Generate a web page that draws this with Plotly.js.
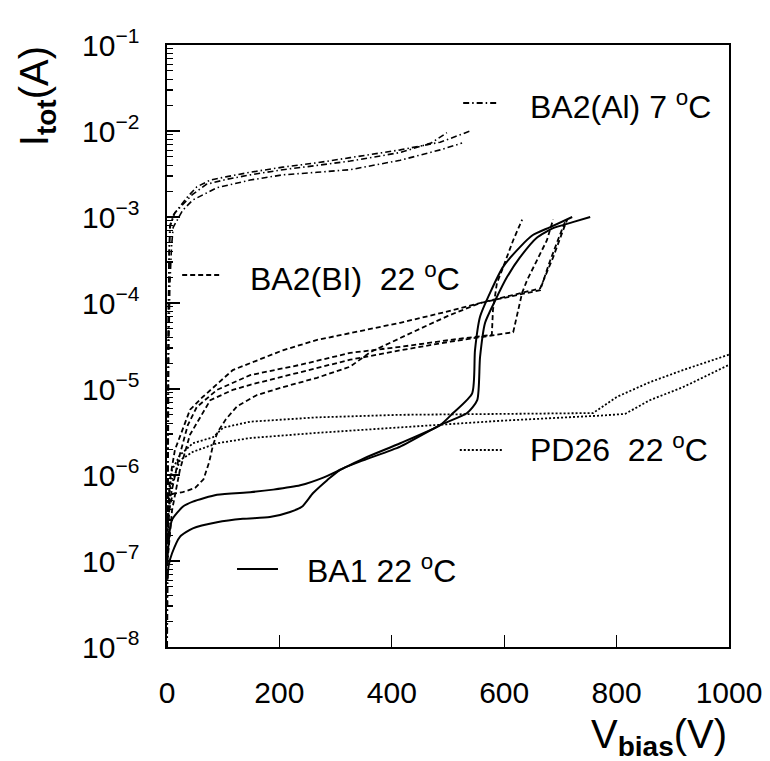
<!DOCTYPE html>
<html>
<head>
<meta charset="utf-8">
<script src="https://cdn.plot.ly/plotly-3.0.1.min.js"></script>
<style>html,body{margin:0;padding:0;background:#fff;}#chart{width:770px;height:761px;}</style>
</head>
<body>
<div id="chart"></div>
<script>
// ---- data (V in volts, I in amperes) ----
// BA1 22 C (solid)
const ba1aV = [1, 3, 5, 9, 28, 46, 89, 148, 189, 237, 278, 308, 356, 415, 486, 509, 543, 548, 557, 575, 598, 628, 651, 681, 721];
const ba1aI = [1.12e-7, 1.66e-7, 2.29e-7, 3.02e-7, 4.27e-7, 4.90e-7, 5.89e-7, 6.31e-7, 6.76e-7, 7.59e-7, 9.33e-7, 1.15e-6, 1.62e-6, 2.34e-6, 3.80e-6, 5.25e-6, 8.91e-6, 2.82e-5, 6.92e-5, 1.32e-4, 2.63e-4, 4.47e-4, 6.17e-4, 7.59e-4, 1.0e-3];
const ba1bV = [1, 3, 9, 23, 46, 89, 135, 183, 219, 240, 260, 285, 308, 349, 415, 486, 534, 552, 557, 566, 584, 605, 628, 658, 687, 722, 753];
const ba1bI = [6.31e-8, 8.91e-8, 1.23e-7, 1.91e-7, 2.40e-7, 2.82e-7, 3.09e-7, 3.24e-7, 3.72e-7, 4.27e-7, 6.17e-7, 8.71e-7, 1.15e-6, 1.48e-6, 2.14e-6, 3.80e-6, 5.25e-6, 7.41e-6, 2.34e-5, 5.89e-5, 1.07e-4, 2.00e-4, 3.39e-4, 5.75e-4, 7.41e-4, 8.71e-4, 1.0e-3];

// BA2(BI) 22 C (dashed)
const bi1V = [1, 5, 14, 27, 41, 64, 117, 206, 267, 326, 415, 498, 557, 664, 687, 705, 712];
const bi1I = [2.51e-7, 8.71e-7, 1.95e-6, 3.31e-6, 5.75e-6, 8.13e-6, 1.66e-5, 2.82e-5, 3.72e-5, 4.47e-5, 5.89e-5, 7.94e-5, 1.0e-4, 1.48e-4, 3.39e-4, 7.08e-4, 9.33e-4];
const bi2V = [1, 5, 20, 37, 53, 89, 148, 237, 326, 415, 504, 578, 580, 587, 596, 605, 616, 632];
const bi2I = [1.58e-7, 5.13e-7, 1.48e-6, 3.80e-6, 6.17e-6, 9.77e-6, 1.45e-5, 1.91e-5, 2.63e-5, 3.09e-5, 3.72e-5, 4.27e-5, 8.32e-5, 1.70e-4, 2.40e-4, 3.39e-4, 5.37e-4, 9.33e-4];
const bi3V = [1, 9, 23, 41, 77, 117, 148, 237, 326, 415, 504, 616, 623, 632, 641, 658, 676, 687];
const bi3I = [1.0e-7, 3.89e-7, 1.15e-6, 2.95e-6, 7.41e-6, 9.77e-6, 1.12e-5, 1.55e-5, 2.19e-5, 2.82e-5, 3.55e-5, 4.57e-5, 7.59e-5, 1.32e-4, 1.86e-4, 3.16e-4, 5.37e-4, 9.33e-4];
const bi4V = [1, 10, 28, 50, 65, 75, 82, 90, 105, 125, 160, 206, 267, 326, 362, 400, 450, 500, 557, 664, 681, 699, 708];
const bi4I = [3.16e-7, 6.03e-7, 6.31e-7, 7.08e-7, 8.91e-7, 1.41e-6, 2.24e-6, 3.16e-6, 4.47e-6, 6.31e-6, 8.51e-6, 1.05e-5, 1.35e-5, 1.82e-5, 2.69e-5, 3.55e-5, 5.01e-5, 7.08e-5, 1.0e-4, 1.41e-4, 3.02e-4, 6.17e-4, 8.71e-4];

// PD26 22 C (dotted)
const pd1V = [1, 2, 9, 23, 46, 82, 100, 148, 267, 415, 593, 758, 801, 859, 918, 1000];
const pd1I = [2.0e-7, 5.13e-7, 1.15e-6, 1.70e-6, 2.34e-6, 2.75e-6, 3.55e-6, 4.17e-6, 4.68e-6, 5.01e-6, 5.13e-6, 5.25e-6, 8.13e-6, 1.20e-5, 1.66e-5, 2.51e-5];
const pd2V = [1, 5, 23, 46, 89, 148, 267, 415, 593, 770, 815, 859, 918, 1000];
const pd2I = [1.26e-7, 6.76e-7, 1.48e-6, 1.86e-6, 2.34e-6, 2.69e-6, 3.09e-6, 3.55e-6, 4.27e-6, 4.90e-6, 5.13e-6, 7.41e-6, 1.05e-5, 1.91e-5];

// BA2(Al) 7 C (dash-dot)
const al1V = [0.2, 1, 2, 3.5, 5, 12, 23, 36, 53, 77, 107, 148, 206, 267, 326, 415, 486, 543];
const al1I = [1.0e-8, 1.0e-6, 3.16e-5, 3.16e-4, 7.94e-4, 1.07e-3, 1.32e-3, 1.70e-3, 2.24e-3, 2.69e-3, 2.95e-3, 3.31e-3, 3.80e-3, 4.27e-3, 4.90e-3, 6.03e-3, 7.41e-3, 1.02e-2];
const al2V = [0.3, 1.2, 2.5, 4, 6, 14, 28, 45, 70, 107, 148, 206, 267, 326, 415, 470, 498];
const al2I = [1.0e-8, 1.58e-6, 6.31e-5, 3.98e-4, 7.94e-4, 1.12e-3, 1.41e-3, 1.82e-3, 2.40e-3, 2.75e-3, 3.09e-3, 3.55e-3, 3.98e-3, 4.47e-3, 5.62e-3, 7.24e-3, 9.55e-3];
const al3V = [0.4, 1.5, 3, 5, 8, 11, 28, 46, 89, 148, 206, 267, 326, 415, 486, 525];
const al3I = [1.0e-8, 6.31e-7, 2.51e-5, 1.58e-4, 4.47e-4, 7.59e-4, 1.20e-3, 1.58e-3, 2.19e-3, 2.69e-3, 3.09e-3, 3.31e-3, 3.55e-3, 4.57e-3, 6.03e-3, 7.24e-3];

// axis ticks
const xTicks = [0, 200, 400, 600, 800, 1000];
const yTicks = [1e-8, 1e-7, 1e-6, 1e-5, 1e-4, 1e-3, 1e-2, 1e-1];
const yTickText = ['10<sup>\u22128</sup>', '10<sup>\u22127</sup>', '10<sup>\u22126</sup>', '10<sup>\u22125</sup>', '10<sup>\u22124</sup>', '10<sup>\u22123</sup>', '10<sup>\u22122</sup>', '10<sup>\u22121</sup>'];

// legend labels
const labAl = 'BA2(Al) 7 <sup>o</sup>C';
const labBI = 'BA2(BI)\u00a0\u00a022 <sup>o</sup>C';
const labPD = 'PD26\u00a0\u00a022 <sup>o</sup>C';
const labBA1 = 'BA1 22 <sup>o</sup>C';

// ---- styles ----
const FONT = 'Liberation Sans, Arial, Helvetica, sans-serif';
const DASH = '5px,3px';
const DOT = '2px,2px';
const DASHDOT = '6px,3px,1.5px,3px';

function tr(x, y, dash, w, shape) {
  return {x: x, y: y, type: 'scatter', mode: 'lines',
    line: {color: '#000', width: w, dash: dash, shape: shape || 'linear', smoothing: 0.6},
    hoverinfo: 'skip', showlegend: false};
}

const data = [
  tr(al1V, al1I, DASHDOT, 1.6),
  tr(al2V, al2I, DASHDOT, 1.6),
  tr(al3V, al3I, DASHDOT, 1.6),
  tr(pd1V, pd1I, DOT, 1.8),
  tr(pd2V, pd2I, DOT, 1.8),
  tr(bi1V, bi1I, DASH, 1.8),
  tr(bi2V, bi2I, DASH, 1.8),
  tr(bi3V, bi3I, DASH, 1.8),
  tr(bi4V, bi4I, DASH, 1.8),
  tr(ba1aV, ba1aI, 'solid', 2, 'spline'),
  tr(ba1bV, ba1bI, 'solid', 2, 'spline')
];

function keyLine(x0, x1, y, dash) {
  return {type: 'line', xref: 'paper', yref: 'paper', x0: x0, x1: x1, y0: y, y1: y,
    line: {color: '#000', width: 2, dash: dash}};
}
function lab(text, x, y) {
  return {text: text, xref: 'paper', yref: 'paper', x: x, y: y, xanchor: 'left', yanchor: 'middle',
    showarrow: false, font: {family: FONT, size: 32, color: '#000'}};
}

const layout = {
  width: 770, height: 761,
  margin: {l: 167, r: 41, t: 45, b: 114, pad: 0},
  paper_bgcolor: '#fff', plot_bgcolor: '#fff',
  showlegend: false,
  xaxis: {
    range: [0, 1000], tickmode: 'array', tickvals: xTicks,
    ticks: 'inside', ticklen: 12, tickwidth: 1.3, tickcolor: '#000',
    showline: true, linecolor: '#000', linewidth: 1.6, mirror: true,
    showgrid: false, zeroline: false, ticklabelstandoff: 18,
    tickfont: {family: FONT, size: 30, color: '#000'}
  },
  yaxis: {
    type: 'log', range: [-8, -1], tickmode: 'array', tickvals: yTicks, ticktext: yTickText,
    ticks: 'inside', ticklen: 13, tickwidth: 1.3, tickcolor: '#000',
    minor: {ticks: 'inside', ticklen: 6, tickwidth: 1.1, tickcolor: '#000', dtick: 'D1', showgrid: false},
    showline: true, linecolor: '#000', linewidth: 1.6, mirror: true,
    showgrid: false, zeroline: false, ticklabelstandoff: 20,
    tickfont: {family: FONT, size: 30, color: '#000'}
  },
  shapes: [
    keyLine(0.527, 0.589, 0.9037, DASHDOT),
    keyLine(0.027, 0.098, 0.618, DASH),
    keyLine(0.521, 0.596, 0.3272, DOT),
    keyLine(0.1246, 0.1975, 0.1296, 'solid')
  ],
  annotations: [
    lab(labAl, 0.642, 0.900),
    lab(labBI, 0.144, 0.615),
    lab(labPD, 0.642, 0.3306),
    lab(labBA1, 0.2456, 0.1296),
    {text: 'I<sub><b>tot</b></sub>(A)', xref: 'paper', yref: 'paper', x: -0.2313, y: 0.915,
      xanchor: 'center', yanchor: 'middle', textangle: -90, showarrow: false,
      font: {family: FONT, size: 40, color: '#000'}},
    {text: 'V<sub><b>bias</b></sub>(V)', xref: 'paper', yref: 'paper', x: 0.875, y: -0.15,
      xanchor: 'center', yanchor: 'middle', showarrow: false,
      font: {family: FONT, size: 40, color: '#000'}}
  ]
};

Plotly.newPlot('chart', data, layout, {staticPlot: true, displayModeBar: false});
</script>
</body>
</html>
